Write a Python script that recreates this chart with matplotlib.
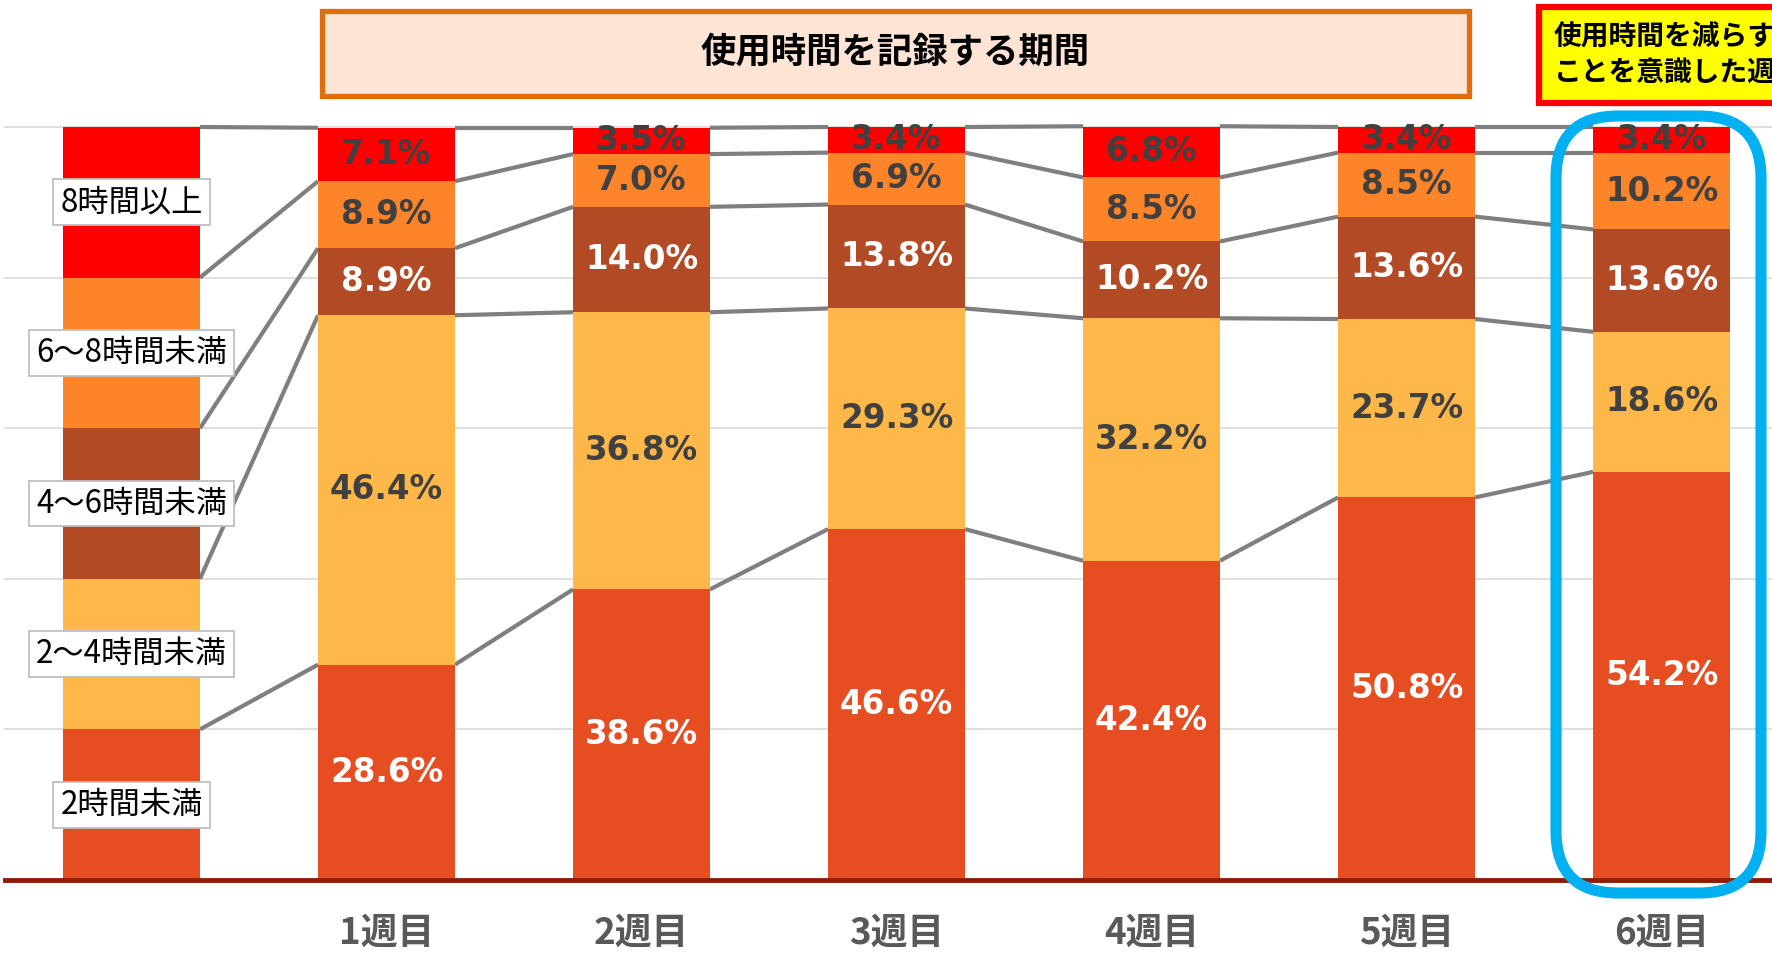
import matplotlib.pyplot as plt
import numpy as np
from matplotlib.patches import Rectangle, FancyBboxPatch

# columns: legend column (no tick label) + 6 weeks
weeks = ["", "1週目", "2週目", "3週目", "4週目", "5週目", "6週目"]
groups = ["2時間未満", "2～4時間未満", "4～6時間未満", "6～8時間未満", "8時間以上"]

under2 = [20, 28.6, 38.6, 46.6, 42.4, 50.8, 54.2]
h2to4 = [20, 46.4, 36.8, 29.3, 32.2, 23.7, 18.6]
h4to6 = [20, 8.9, 14.0, 13.8, 10.2, 13.6, 13.6]
h6to8 = [20, 8.9, 7.0, 6.9, 8.5, 8.5, 10.2]
over8 = [20, 7.1, 3.5, 3.4, 6.8, 3.4, 3.4]

colors = ["#E64E22", "#FDB849", "#B34A26", "#FD8428", "#FF0000"]
label_colors = ["white", "#404040", "white", "#404040", "#404040"]

series = np.array([under2, h2to4, h4to6, h6to8, over8])
x = np.arange(len(weeks))
bar_w = 0.537

W, H = 1772, 960
fig = plt.figure(figsize=(W / 100, H / 100), dpi=100)
ax = fig.add_axes([5 / W, 1 - 880 / H, 1 - 5 / W, (880 - 127) / H])
ax.set_xlim(-0.496, 6.433)
ax.set_ylim(0, 100)

# grid
for g in [20, 40, 60, 80, 100]:
    ax.axhline(g, color="#D9D9D9", lw=1.2, zorder=0, clip_on=False)

bottoms = np.zeros(len(weeks))
for k in range(len(series)):
    vals = series[k]
    ax.bar(x, vals, bar_w, bottom=bottoms, color=colors[k], zorder=2)
    for i in range(1, len(weeks)):
        ax.text(x[i], bottoms[i] + vals[i] / 2, f"{vals[i]:.1f}%", ha="center", va="center",
                fontsize=23.5, fontweight="bold", color=label_colors[k],
                family="DejaVu Sans", zorder=5)
    # legend column labels
    ax.text(x[0], bottoms[0] + vals[0] / 2, groups[k], ha="center", va="center",
            fontsize=22.5, family=["Noto Sans CJK JP", "DejaVu Sans"], color="black", zorder=7,
            bbox=dict(boxstyle="square,pad=0.22", fc="white", ec="#BFBFBF", lw=1.3))
    bottoms = bottoms + vals

# connector lines between cumulative boundaries
cum = np.cumsum(series, axis=0)
for k in range(len(series)):
    for i in range(len(weeks) - 1):
        ax.plot([x[i] + bar_w / 2, x[i + 1] - bar_w / 2], [cum[k][i], cum[k][i + 1]],
                color="#7F7F7F", lw=3, solid_capstyle="butt", zorder=1.5, clip_on=False)

ax.axhline(0, color="#8B1E00", lw=3.5, zorder=4, clip_on=False)

ax.set_yticks([])
ax.set_xticks(x)
ax.set_xticklabels(weeks, fontsize=26.5, fontweight="bold", color="#595959",
                   family=["Noto Sans CJK JP", "DejaVu Sans"])
ax.tick_params(axis="x", length=0, pad=25)
for s in ax.spines.values():
    s.set_visible(False)

# title box
fig.add_artist(Rectangle((322 / W, 1 - 96 / H), (1469 - 322) / W, (96 - 11) / H,
                         transform=fig.transFigure, fc="#FDE4D4", ec="#E26B0A", lw=3.8))
fig.text(895 / W, 1 - 52 / H, "使用時間を記録する期間", ha="center", va="center",
         fontsize=25.5, fontweight="bold", family=["Noto Sans CJK JP", "DejaVu Sans"])

# highlight box at right
fig.add_artist(Rectangle((1539 / W, 1 - 103 / H), 270 / W, (103 - 7) / H,
                         transform=fig.transFigure, fc="#FFFF00", ec="#FF0000", lw=4.5))
fig.text(1665 / W, 1 - 38 / H, "使用時間を減らす", ha="center", va="center",
         fontsize=20, fontweight="bold", family=["Noto Sans CJK JP", "DejaVu Sans"])
fig.text(1665 / W, 1 - 73 / H, "ことを意識した週", ha="center", va="center",
         fontsize=20, fontweight="bold", family=["Noto Sans CJK JP", "DejaVu Sans"])

# blue rounded frame around week 6
fig.add_artist(FancyBboxPatch((1556 / W, 1 - 893 / H), 205 / W, (893 - 116) / H,
                              boxstyle=f"round,pad=0,rounding_size={62 / W}",
                              mutation_aspect=W / H, transform=fig.transFigure,
                              fc="none", ec="#00B0F0", lw=8, zorder=10))

fig.savefig("out.png", dpi=100)
